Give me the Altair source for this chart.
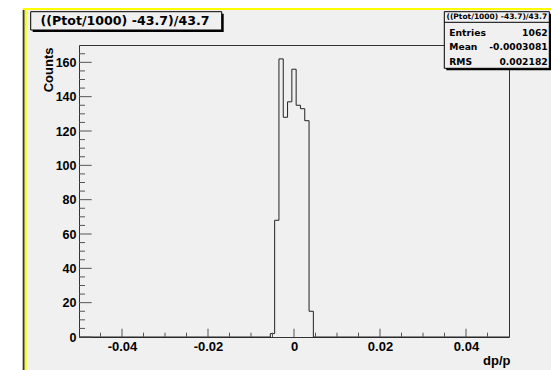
import altair as alt
import pandas as pd

# ---------------- data ----------------
bin_lo = [-0.0055, -0.0045, -0.0035, -0.0025, -0.0015, -0.0005, 0.0005, 0.0015, 0.0025, 0.0035]
counts = [2, 68, 162, 128, 137, 156, 135, 133, 126, 15]
bin_width = 0.001
x_range = [-0.05, 0.05]
y_range = [0, 170.1]

x_major = [-0.04, -0.02, 0, 0.02, 0.04]
x_minor = [-0.045, -0.035, -0.03, -0.025, -0.015, -0.01, -0.005,
           0.005, 0.01, 0.015, 0.025, 0.03, 0.035, 0.045]
y_major = [0, 20, 40, 60, 80, 100, 120, 140, 160]
y_minor = [5, 10, 15, 25, 30, 35, 45, 50, 55, 65, 70, 75, 85, 90, 95,
           105, 110, 115, 125, 130, 135, 145, 150, 155, 165]

hist_title = "((Ptot/1000) -43.7)/43.7"
stat_names = ["Entries", "Mean", "RMS"]
stat_values = ["1062", "-0.0003081", "0.002182"]
x_title = "dp/p"
y_title = "Counts"

# ---------------- layout constants ----------------
W, H = 430, 292
PAD = {"left": 79, "top": 45, "right": 42, "bottom": 33}
BG = "#f0f0f0"
LBL = "Liberation Sans"
BOX = "DejaVu Sans"

# step outline of the histogram
xs = [x_range[0]] + bin_lo + [bin_lo[-1] + bin_width, x_range[1]]
ys = [0] + counts + [0, 0]
hist_df = pd.DataFrame({"x": xs, "y": ys})

xscale = alt.Scale(domain=x_range, nice=False, zero=False)
yscale = alt.Scale(domain=y_range, nice=False, zero=False)

x_axis = alt.Axis(values=x_major, ticks=False, domain=False, grid=False,
                  labelExpr="toString(datum.value)",
                  labelFont=LBL, labelFontSize=13, labelFontWeight="bold",
                  labelColor="black", labelPadding=3,
                  title=x_title, titleFont=LBL, titleFontSize=13,
                  titleFontWeight="bold", titleColor="black",
                  titleAnchor="end", titleAlign="right",
                  titleBaseline="alphabetic", titleX=431, titleY=27)
y_axis = alt.Axis(values=y_major, ticks=False, domain=False, grid=False,
                  labelFont=LBL, labelFontSize=12.5, labelFontWeight="bold",
                  labelColor="black", labelPadding=3,
                  title=y_title, titleFont=LBL, titleFontSize=13,
                  titleFontWeight="bold", titleColor="black",
                  titleAlign="right", titleBaseline="alphabetic",
                  titleX=-27, titleY=2)

one = pd.DataFrame({"d": [0]})

def rect(x, x2, y, y2, fill, stroke=None):
    kw = dict(fill=fill)
    if stroke:
        kw.update(stroke=stroke, strokeWidth=1)
    return alt.Chart(one).mark_rect(**kw).encode(
        x=alt.value(x), x2=alt.value(x2), y=alt.value(y), y2=alt.value(y2))

def label(txt, x, y, size, align="left", font=BOX):
    return alt.Chart(one).mark_text(
        font=font, fontSize=size, fontWeight="bold", align=align,
        baseline="alphabetic", color="black").encode(
        x=alt.value(x), y=alt.value(y), text=alt.value(txt))

# canvas decorations (white margin + yellow/dark pad border)
deco = [
    rect(-79, 472, -45, -37, "white"),
    rect(-79, -56.3, -45, 325, "white"),
    rect(-56.3, 472, -37, -35, "#ffff00"),
    rect(-56.3, -54.3, -35, 325, "#333333"),
    rect(-54.3, -52.3, -35, 325, "#ffff00"),
]

hist = alt.Chart(hist_df).mark_line(
    interpolate="step-after", color="#222222", strokeWidth=1).encode(
    x=alt.X("x:Q", scale=xscale, axis=x_axis),
    y=alt.Y("y:Q", scale=yscale, axis=y_axis),
)

def xticks(vals, length):
    return alt.Chart(pd.DataFrame({"x": vals})).mark_rule(color="#555555").encode(
        x=alt.X("x:Q", scale=xscale, axis=x_axis),
        y=alt.value(H), y2=alt.value(H - length))

def yticks(vals, length):
    return alt.Chart(pd.DataFrame({"y": vals})).mark_rule(color="#555555").encode(
        y=alt.Y("y:Q", scale=yscale, axis=y_axis),
        x=alt.value(0), x2=alt.value(length))

ticks = [xticks(x_major, 8.3), xticks(x_minor, 4.3),
         yticks(y_major, 12.7), yticks(y_minor, 6)]

# title box
title_box = [
    rect(-46.3, 144.7, -31.3, -13, "#000000"),
    rect(-48.3, 142.7, -33.3, -15, BG, stroke="#000000"),
    label(hist_title, 46, -20, 12.6, align="center"),
]

# statistics box
stats = [
    rect(367.3, 472, -31.3, 25.3, "#000000"),
    rect(365.3, 470.3, -33.3, 23.3, BG, stroke="#000000"),
    alt.Chart(one).mark_rule(color="#000000").encode(
        x=alt.value(365.3), x2=alt.value(470.3), y=alt.value(-22.7)),
    label(hist_title, 417.8, -25.8, 7.5, align="center"),
]
for i, (nm, val) in enumerate(zip(stat_names, stat_values)):
    yb = -9.3 + i * 14.65
    stats.append(label(nm, 370.3, yb, 9.2))
    stats.append(label(val, 468.7, yb, 9.2, align="right"))

chart = alt.layer(hist, *ticks, *title_box, *stats, *deco).properties(
    width=W, height=H,
    autosize=alt.AutoSizeParams(type="none"),
    padding=PAD,
    background=BG,
).configure_view(stroke="#333333", strokeWidth=1)

chart.save("out.html", embed_options={"renderer": "svg", "actions": False})
